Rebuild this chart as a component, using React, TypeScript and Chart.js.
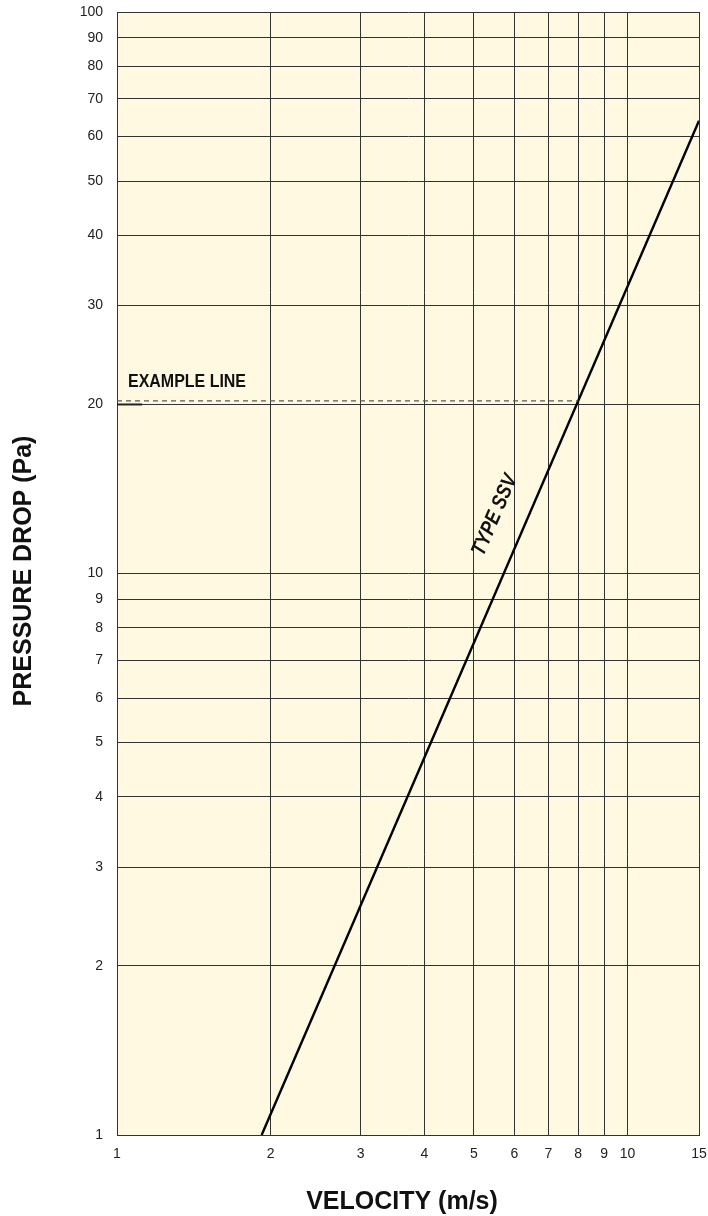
import React, { useEffect, useRef } from "react";
import { Chart, registerables } from "chart.js";

Chart.register(...registerables);

// ---- data ----
const velocityTicks = [1, 2, 3, 4, 5, 6, 7, 8, 9, 10, 13.8];
const velocityTickLabels = ["1", "2", "3", "4", "5", "6", "7", "8", "9", "10", "15"];
const pressureTicks = [1, 2, 3, 4, 5, 6, 7, 8, 9, 10, 20, 30, 40, 50, 60, 70, 80, 90, 100];
const pressureTickLabels = pressureTicks.map((v) => String(v));

const ssvVelocity = [1.92, 13.8];
const ssvPressure = [1, 64];

const exampleVelocity = [1, 8];
const examplePressure = [20.3, 20.3];

const markVelocity = [1, 1.12];
const markPressure = [20, 20];

const xTitle = "VELOCITY (m/s)";
const yTitle = "PRESSURE DROP (Pa)";
const exampleLabel = "EXAMPLE LINE";
const ssvLabel = "TYPE SSV";

const FONT = "'Liberation Sans', Arial, Helvetica, sans-serif";

function fitText(ctx: CanvasRenderingContext2D, text: string, font: string, width: number) {
  ctx.font = font;
  const w = ctx.measureText(text).width;
  return width / w;
}

const overlayPlugin = {
  id: "overlay",
  beforeDraw(chart: any) {
    const { ctx, chartArea } = chart;
    ctx.save();
    ctx.fillStyle = "#FFF9E2";
    ctx.fillRect(chartArea.left, chartArea.top, chartArea.right - chartArea.left, chartArea.bottom - chartArea.top);
    ctx.restore();
  },
  afterDraw(chart: any) {
    const { ctx } = chart;
    const xs = chart.scales.x;
    const ys = chart.scales.y;
    ctx.save();
    ctx.fillStyle = "#111";
    ctx.textAlign = "center";
    ctx.textBaseline = "middle";

    // x title
    ctx.font = `bold 25px ${FONT}`;
    ctx.fillText(xTitle, 402, 1202);

    // y title
    ctx.save();
    ctx.translate(24, 571);
    ctx.rotate(-Math.PI / 2);
    ctx.font = `bold 25px ${FONT}`;
    ctx.fillText(yTitle, 0, 0);
    ctx.restore();

    // EXAMPLE LINE label
    ctx.save();
    const exFont = `bold 19px ${FONT}`;
    const sx = fitText(ctx, exampleLabel, exFont, 118);
    const ex = xs.getPixelForValue(exampleVelocity[0]) + 11;
    const ey = ys.getPixelForValue(examplePressure[0]) - 19;
    ctx.translate(ex, ey);
    ctx.scale(sx, 1);
    ctx.textAlign = "left";
    ctx.font = exFont;
    ctx.fillText(exampleLabel, 0, 0);
    ctx.restore();

    // TYPE SSV label along the line
    ctx.save();
    const x0 = xs.getPixelForValue(ssvVelocity[0]);
    const y0 = ys.getPixelForValue(ssvPressure[0]);
    const x1 = xs.getPixelForValue(ssvVelocity[1]);
    const y1 = ys.getPixelForValue(ssvPressure[1]);
    const ang = Math.atan2(y1 - y0, x1 - x0);
    const tFont = `italic bold 21px ${FONT}`;
    const ts = fitText(ctx, ssvLabel, tFont, 86);
    const tx = xs.getPixelForValue(5.5);
    const ty = ys.getPixelForValue(12.7);
    ctx.translate(tx, ty);
    ctx.rotate(ang);
    ctx.scale(ts, 1);
    ctx.font = tFont;
    ctx.fillText(ssvLabel, 0, 0);
    ctx.restore();

    ctx.restore();
  },
};

export default function App() {
  const ref = useRef<HTMLCanvasElement | null>(null);

  useEffect(() => {
    if (!ref.current) return;
    const toPts = (xs: number[], ys: number[]) => xs.map((x, i) => ({ x, y: ys[i] }));
    const chart = new Chart(ref.current, {
      type: "scatter",
      data: {
        datasets: [
          {
            data: toPts(exampleVelocity, examplePressure),
            showLine: true,
            borderColor: "#555",
            borderWidth: 1.2,
            borderDash: [5, 4],
            pointRadius: 0,
          },
          {
            data: toPts(markVelocity, markPressure),
            showLine: true,
            borderColor: "#222",
            borderWidth: 2,
            pointRadius: 0,
          },
          {
            data: toPts(ssvVelocity, ssvPressure),
            showLine: true,
            borderColor: "#000",
            borderWidth: 2.4,
            pointRadius: 0,
          },
        ],
      },
      options: {
        responsive: false,
        animation: false,
        layout: { padding: { top: 12, right: 9, left: 0, bottom: 0 } },
        plugins: { legend: { display: false }, tooltip: { enabled: false } },
        scales: {
          x: {
            type: "logarithmic",
            min: velocityTicks[0],
            max: velocityTicks[velocityTicks.length - 1],
            afterBuildTicks: (s: any) => {
              s.ticks = velocityTicks.map((v) => ({ value: v }));
            },
            afterFit: (s: any) => {
              s.height = 81;
              s.paddingLeft = 0;
              s.paddingRight = 0;
            },
            grid: { color: "#333", lineWidth: 1, drawTicks: false },
            border: { display: true, color: "#333", width: 1 },
            ticks: {
              autoSkip: false,
              maxRotation: 0,
              padding: 11,
              color: "#222",
              font: { family: FONT, size: 14 },
              callback: (_v: any, i: number) => velocityTickLabels[i],
            },
          },
          y: {
            type: "logarithmic",
            min: pressureTicks[0],
            max: pressureTicks[pressureTicks.length - 1],
            afterBuildTicks: (s: any) => {
              s.ticks = pressureTicks.map((v) => ({ value: v }));
            },
            afterFit: (s: any) => {
              s.width = 117;
              s.paddingTop = 0;
              s.paddingBottom = 0;
            },
            grid: { color: "#333", lineWidth: 1, drawTicks: false },
            border: { display: true, color: "#333", width: 1 },
            ticks: {
              autoSkip: false,
              padding: 14,
              color: "#222",
              font: { family: FONT, size: 14 },
              callback: (_v: any, i: number) => pressureTickLabels[i],
            },
          },
        },
      },
      plugins: [overlayPlugin],
    });
    return () => chart.destroy();
  }, []);

  return (
    <div style={{ position: "absolute", left: 0, top: 0, width: 708, height: 1216, background: "#fff" }}>
      <canvas ref={ref} width={708} height={1216} />
    </div>
  );
}
